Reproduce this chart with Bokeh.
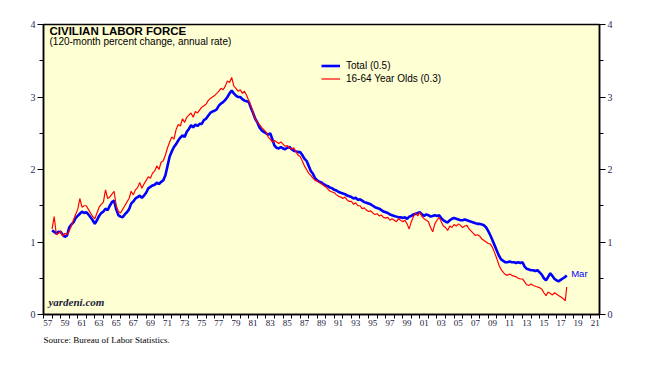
from bokeh.plotting import figure
from bokeh.models import Label, LinearAxis, FixedTicker, Range1d, Legend, LegendItem, Title
from bokeh.embed import file_html
from bokeh.resources import INLINE

# ---------------- data (quarterly, 120-month % change, annual rate) ----------------
start_year = 1958
total_q = [
    1.16, 1.14, 1.12, 1.14,  1.14, 1.10, 1.07, 1.09,  1.20, 1.24, 1.27, 1.33,  1.36, 1.39, 1.42, 1.40,
    1.41, 1.38, 1.34, 1.30,  1.25, 1.30, 1.36, 1.40,  1.42, 1.46, 1.44, 1.50,  1.55, 1.57, 1.45, 1.37,
    1.35, 1.34, 1.38, 1.41,  1.45, 1.53, 1.56, 1.60,  1.62, 1.64, 1.61, 1.64,  1.68, 1.74, 1.76, 1.78,
    1.79, 1.82, 1.80, 1.83,  1.85, 1.92, 2.05, 2.18,  2.25, 2.31, 2.35, 2.40,  2.44, 2.47, 2.45, 2.52,
    2.56, 2.61, 2.58, 2.62,  2.60, 2.63, 2.63, 2.68,  2.70, 2.74, 2.78, 2.80,  2.81, 2.83, 2.88, 2.91,
    2.93, 2.96, 3.00, 3.05,  3.09, 3.05, 3.02, 3.00,  3.00, 2.97, 2.95, 2.94,  2.93, 2.85, 2.78, 2.70,
    2.65, 2.58, 2.54, 2.52,  2.50, 2.48, 2.50, 2.42,  2.33, 2.30, 2.29, 2.31,  2.29, 2.28, 2.30, 2.31,
    2.28, 2.26, 2.25, 2.24,  2.24, 2.20, 2.15, 2.12,  2.05, 1.98, 1.94, 1.88,  1.85, 1.83, 1.82, 1.80,
    1.78, 1.77, 1.75, 1.74,  1.72, 1.71, 1.69, 1.68,  1.67, 1.66, 1.64, 1.63,  1.62, 1.60, 1.61, 1.58,
    1.59, 1.57, 1.55, 1.54,  1.53, 1.52, 1.50, 1.48,  1.47, 1.46, 1.44, 1.42,  1.41, 1.40, 1.38, 1.37,
    1.36, 1.35, 1.34, 1.34,  1.33, 1.34, 1.32, 1.35,  1.36, 1.38, 1.39, 1.40,  1.41, 1.38, 1.36, 1.38,
    1.37, 1.35, 1.36, 1.37,  1.36, 1.37, 1.33, 1.30,  1.28, 1.27, 1.30, 1.32,  1.33, 1.32, 1.31, 1.30,
    1.30, 1.31, 1.30, 1.29,  1.28, 1.27, 1.26, 1.25,  1.25, 1.24, 1.23, 1.20,  1.15, 1.09, 1.02, 0.95,
    0.88, 0.81, 0.76, 0.74,  0.72, 0.72, 0.73, 0.72,  0.72, 0.71, 0.72, 0.71,  0.72, 0.66, 0.63, 0.62,
    0.61, 0.61, 0.60, 0.61,  0.58, 0.55, 0.50, 0.47,  0.52, 0.57, 0.53, 0.49,  0.47, 0.46, 0.48, 0.50,
    0.52, 0.54,
]
age16_64_q = [
    1.18, 1.35, 1.10, 1.12,  1.15, 1.08, 1.12, 1.10,  1.15, 1.22, 1.30, 1.38,  1.45, 1.60, 1.48, 1.50,
    1.50, 1.45, 1.40, 1.35,  1.32, 1.40, 1.48, 1.52,  1.55, 1.72, 1.60, 1.62,  1.66, 1.70, 1.50, 1.42,
    1.40, 1.45, 1.50, 1.55,  1.60, 1.70, 1.65, 1.72,  1.75, 1.82, 1.74, 1.80,  1.85, 1.90, 1.88, 1.95,
    1.98, 2.05, 2.00, 2.10,  2.12, 2.20, 2.30, 2.38,  2.45, 2.42, 2.55, 2.62,  2.60, 2.70, 2.65, 2.72,
    2.75, 2.78, 2.72, 2.80,  2.78, 2.82, 2.86, 2.88,  2.90, 2.95, 2.98, 3.00,  3.02, 3.05, 3.08, 3.12,
    3.10, 3.15, 3.22, 3.20,  3.27, 3.15, 3.12, 3.08,  3.10, 3.05, 3.08, 3.02,  2.95, 2.88, 2.78, 2.70,
    2.65, 2.62, 2.58, 2.55,  2.52, 2.45, 2.42, 2.38,  2.40, 2.38, 2.36, 2.38,  2.35, 2.32, 2.33, 2.30,
    2.28, 2.30, 2.25, 2.20,  2.18, 2.12, 2.05, 2.00,  1.95, 1.92, 1.88, 1.85,  1.84, 1.82, 1.80, 1.78,
    1.76, 1.73, 1.70, 1.69,  1.68, 1.65, 1.63, 1.62,  1.60, 1.62, 1.58, 1.56,  1.56, 1.52, 1.54, 1.50,
    1.50, 1.46, 1.47, 1.44,  1.42, 1.43, 1.40, 1.38,  1.39, 1.36, 1.37, 1.34,  1.33, 1.34, 1.30, 1.32,
    1.30, 1.28, 1.32, 1.30,  1.28, 1.30, 1.25, 1.18,  1.28, 1.35, 1.40, 1.36,  1.41, 1.35, 1.32, 1.30,
    1.28, 1.20, 1.14, 1.25,  1.30, 1.34, 1.28, 1.22,  1.20, 1.16, 1.22, 1.20,  1.24, 1.22, 1.25, 1.23,
    1.20, 1.22, 1.23, 1.18,  1.15, 1.12, 1.09, 1.10,  1.08, 1.04, 1.02, 1.00,  0.98, 0.97, 0.92, 0.85,
    0.77, 0.68, 0.62, 0.58,  0.55, 0.54, 0.56, 0.54,  0.53, 0.52, 0.50, 0.49,  0.49, 0.45, 0.41, 0.40,
    0.42, 0.40, 0.39, 0.38,  0.37, 0.35, 0.30, 0.26,  0.31, 0.29, 0.27, 0.30,  0.28, 0.26, 0.24, 0.22,
    0.19, 0.38,
]
last_date = 2018 + 2 / 12  # March 2018
dates = [start_year + i / 4 for i in range(len(total_q) - 1)] + [last_date]

x_tick_years = list(range(1957, 2022, 2))
x_tick_labels = ["%02d" % (y % 100) for y in x_tick_years]
y_ticks = [0, 1, 2, 3, 4]
y_minor = [0.5, 1.5, 2.5, 3.5]

title_text = "CIVILIAN LABOR FORCE"
subtitle_text = "(120-month percent change, annual rate)"
legend_labels = ["Total (0.5)", "16-64 Year Olds (0.3)"]
source_text = "Source: Bureau of Labor Statistics."

# ---------------- figure ----------------
p = figure(width=645, height=358, output_backend="svg", toolbar_location=None,
           x_range=Range1d(1957, 2022), y_range=Range1d(0, 4),
           min_border_left=43, min_border_right=46, min_border_top=24, min_border_bottom=44,
           background_fill_color="#FFFFD4", border_fill_color="white")
p.grid.visible = False
p.outline_line_color = "black"
p.outline_line_width = 1.5

# x axis
xa = p.xaxis[0]
xa.ticker = FixedTicker(ticks=[y + 0.5 for y in x_tick_years], minor_ticks=list(range(1957, 2023)))
xa.major_label_overrides = {y + 0.5: lab for y, lab in zip(x_tick_years, x_tick_labels)}
xa.major_tick_out = 0
xa.major_tick_in = 0
xa.minor_tick_out = 4
xa.minor_tick_in = 0
xa.minor_tick_line_color = "black"
xa.axis_line_width = 1.5
xa.major_label_standoff = 1
xa.major_label_text_font = "Liberation Serif"
xa.major_label_text_font_size = "9px"
xa.major_label_text_color = "#1a1a3a"

# y axes
ya = p.yaxis[0]
yr = LinearAxis()
p.add_layout(yr, "right")
for ax in (ya, yr):
    ax.ticker = FixedTicker(ticks=y_ticks, minor_ticks=y_minor)
    ax.major_tick_out = 6
    ax.major_tick_in = 0
    ax.minor_tick_out = 4
    ax.minor_tick_in = 0
    ax.minor_tick_line_color = "black"
    ax.axis_line_width = 1.5
    ax.major_label_standoff = 2
    ax.major_label_text_font = "Liberation Serif"
    ax.major_label_text_font_size = "10px"
    ax.major_label_text_color = "#2a2a5a"

# lines
r_total = p.line(dates, total_q, line_color="#0000FF", line_width=2.6)
r_age = p.line(dates, age16_64_q, line_color="#FF0000", line_width=1.2)

legend = Legend(items=[LegendItem(label=legend_labels[0], renderers=[r_total]),
                       LegendItem(label=legend_labels[1], renderers=[r_age])],
                location=(278, 229), padding=0, margin=0, spacing=0,
                glyph_width=19, glyph_height=13, label_height=13, label_standoff=6,
                border_line_alpha=0, background_fill_alpha=0,
                label_text_font="Liberation Sans", label_text_font_size="10px",
                label_text_color="black")
p.add_layout(legend)

# texts
p.add_layout(Label(x=1957.7, y=3.825, text=title_text, text_font="Liberation Sans",
                   text_font_style="bold", text_font_size="11.5px", text_color="black"))
p.add_layout(Label(x=1957.7, y=3.683, text=subtitle_text, text_font="Liberation Sans",
                   text_font_size="10px", text_color="black"))
p.add_layout(Label(x=1957.58, y=0.083, text="yardeni.com", text_font="Liberation Serif",
                   text_font_style="bold italic", text_font_size="11px", text_color="#1a1a3a"))
p.add_layout(Label(x=2018.69, y=0.485, text="Mar", text_font="Liberation Sans",
                   text_font_size="9.5px", text_color="#0000FF"))
p.add_layout(Title(text=source_text, align="left", text_font="Liberation Serif",
                   text_font_style="normal", text_font_size="9px", text_color="black",
                   standoff=8), "below")

open("out.html", "w").write(file_html(p, INLINE))
